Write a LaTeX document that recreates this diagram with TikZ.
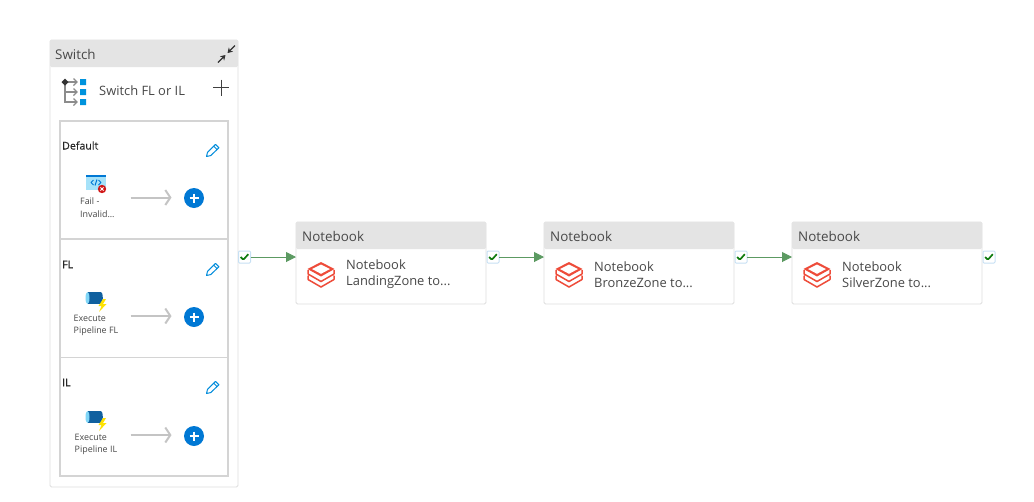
\documentclass[tikz,border=0pt]{standalone}
\usepackage{fontspec}
\setmainfont{Open Sans}
\newfontfamily\casefont[FakeBold=0.4]{Open Sans}
\usetikzlibrary{arrows.meta,shapes.geometric}
\definecolor{azure}{HTML}{0078D4}
\definecolor{headgrey}{HTML}{E4E4E4}
\definecolor{edgegrey}{HTML}{DDDDDD}
\definecolor{casegrey}{HTML}{D4D4D4}
\definecolor{textgrey}{HTML}{484848}
\definecolor{okgreen}{HTML}{107C10}
\definecolor{okline}{HTML}{5C9A62}
\definecolor{halo}{HTML}{C7E0F4}
\definecolor{pipeblue}{HTML}{10609F}
\definecolor{brickred}{HTML}{EE4C3A}
\tikzset{
  box/.style={draw=edgegrey, line width=.9pt, fill=white, rounded corners=1.5pt, anchor=north west, outer sep=0pt, inner sep=0pt},
  casebox/.style={box, draw=casegrey, line width=1.1pt, sharp corners},
  headbar/.style={fill=headgrey, rounded corners=1.5pt, anchor=north west, outer sep=0pt, inner sep=0pt, minimum height=27pt},
  headtext/.style={anchor=west, inner sep=0pt, text=textgrey, font=\fontsize{13.4}{16}\selectfont},
  nbtext/.style={anchor=west, inner sep=0pt, align=left, text=textgrey, font=\fontsize{12.9}{16}\selectfont},
  casetext/.style={anchor=west, inner sep=0pt, text=black!85, font=\casefont\fontsize{10.6}{13}\selectfont},
  acttext/.style={anchor=north west, inner sep=0pt, align=left, text=textgrey, font=\fontsize{8.9}{12.2}\selectfont},
  check/.style={draw=halo, line width=1pt, fill=white, rounded corners=1pt, minimum size=12pt, inner sep=0pt, outer sep=0pt,
    path picture={\draw[okgreen, line width=1.7pt] (path picture bounding box.center) ++(-3.8,0) -- ++(2.6,2.8) -- ++(5,-5.6);}},
  addbtn/.style={circle, fill=azure, minimum size=20pt, inner sep=0pt, outer sep=0pt,
    path picture={\draw[white, line width=1.7pt] (path picture bounding box.center) ++(-4.5,0) -- ++(9,0) ++(-4.5,-4.5) -- ++(0,9);}},
  oklink/.style={draw=okline, line width=1pt, -{Triangle[length=10pt,width=10pt]}},
  addline/.style={draw=black!23, line width=2pt, -{Straight Barb[length=5pt,width=15pt]}},
  pencil/.pic={\draw[azure!85!cyan, line width=1pt, line join=round] (-6,6.5) -- (-5,2.4) -- (3,-5.6) -- (6.4,-2.2) -- (-1.8,5.6) -- cycle (1.2,-3.8) -- (4.4,-.6);},
  failicon/.pic={
    \fill[cyan!35] (-10,-7) rectangle (10,8);
    \fill[azure] (-10,-7) rectangle (10,-4.8);
    \draw[azure, line width=1pt] (-5,.5) -- (-2.5,-2) (-5,.5) -- (-2.5,3) (5,.5) -- (2.5,-2) (5,.5) -- (2.5,3) (1,-2.5) -- (-1,3.5);
    \fill[red!80!black!90!white] (6,7) circle (4.2);
    \draw[white, line width=1pt] (4.4,5.4) -- (7.6,8.6) (4.4,8.6) -- (7.6,5.4);},
  pipeicon/.pic={
    \fill[pipeblue] (-6.5,-6) rectangle (7,6);
    \fill[cyan!50] (-6.5,0) ellipse (2 and 6);
    \fill[pipeblue] (7,0) ellipse (1.8 and 6);
    \fill[yellow!85!orange] (9,1) -- (4.5,8) -- (7.5,8) -- (5,14) -- (12.5,6) -- (9,6) -- (12,1) -- cycle;},
  switchicon/.pic={
    \draw[black!45, line width=2pt] (0,0) -- (0,20) -- (11,20) (0,10) -- (11,10) (0,0) -- (11,0);
    \draw[black!45, line width=1.3pt] (8.5,-3.5) -- (12,0) -- (8.5,3.5) (8.5,6.5) -- (12,10) -- (8.5,13.5) (8.5,16.5) -- (12,20) -- (8.5,23.5);
    \fill[black!80] (-3.5,0) -- (0,-3.5) -- (3.5,0) -- (0,3.5) -- cycle;
    \fill[azure!80!cyan] (15,-3) rectangle (21,3) (15,7) rectangle (21,13) (15,17) rectangle (21,23);},
  bricks/.pic={
    \fill[brickred] (0,-13) -- (13.5,-6) -- (0,1.5) -- (-13.5,-6) -- cycle;
    \fill[white] (0,-10.5) -- (9,-6) -- (0,-1.2) -- (-9,-6) -- cycle;
    \draw[brickred, line width=1.5pt] (-13,-1) -- (0,6.5) -- (13,-1) (-13,4.5) -- (0,12) -- (13,4.5) (-13,-5) -- (-13,-1) (13,-5) -- (13,-1) (-13,.5) -- (-13,4.5) (13,.5) -- (13,4.5);}
}
\begin{document}
\begin{tikzpicture}[x=1pt, y=-1pt]
  \useasboundingbox (0,0) rectangle (1034,501);

  % switch panel
  \node[box, minimum width=188pt, minimum height=447pt] (panel) at (50,40) {};
  \node[headbar, minimum width=188pt] (panelHead) at (50,40) {};
  \node[headtext] (panelTitle) at (55,54.5) {Switch};
  \draw[black!80, line width=1.3pt, -{Stealth[length=5pt,width=6pt]}] (218,62.5) -- (225.5,55);
  \draw[black!80, line width=1.3pt, -{Stealth[length=5pt,width=6pt]}] (235,45.5) -- (227.5,53);
  \pic at (65,82) {switchicon};
  \node[headtext, font=\fontsize{12.9}{15}\selectfont] (switchName) at (99,90.5) {Switch FL or IL};
  \draw[black!75, line width=.8pt] (213,87.5) -- (229,87.5) (221,79.5) -- (221,95.5);

  % cases
  \node[casebox, minimum width=168pt, minimum height=118pt] (caseDefault) at (60,121) {};
  \node[casebox, minimum width=168pt, minimum height=118.5pt] (caseFL) at (60,239) {};
  \node[casebox, minimum width=168pt, minimum height=118.5pt] (caseIL) at (60,357.5) {};
  \node[casetext] (labelDefault) at (62,145.5) {Default};
  \node[casetext] (labelFL) at (62,264.5) {FL};
  \node[casetext] (labelIL) at (62,382.5) {IL};
  \pic at (212.5,150) {pencil};
  \pic at (212.5,269) {pencil};
  \pic at (212.5,387) {pencil};
  \pic at (96,182) {failicon};
  \pic at (94,298) {pipeicon};
  \pic at (94,417) {pipeicon};
  \node[acttext] (actFail) at (80,198) {Fail -\\Invalid...};
  \node[acttext] (actFL) at (73.5,315) {Execute\\Pipeline FL};
  \node[acttext] (actIL) at (74.5,434) {Execute\\Pipeline IL};
  \node[addbtn] (addDefault) at (194,198) {};
  \node[addbtn] (addFL) at (194,317) {};
  \node[addbtn] (addIL) at (194,436) {};
  \coordinate (fromDefault) at (130.5,197.5);
  \coordinate (fromFL) at (130.5,316);
  \coordinate (fromIL) at (130.5,435);
  \draw[addline] (fromDefault) -- (fromDefault -| 171.5,0);
  \draw[addline] (fromFL) -- (fromFL -| 171.5,0);
  \draw[addline] (fromIL) -- (fromIL -| 171.5,0);

  % notebooks
  \node[box, minimum width=190pt, minimum height=82pt] (nbLanding) at (296,222) {};
  \node[headbar, minimum width=190pt] (nbLandingHead) at (296,222) {};
  \node[headtext] (nbLandingTitle) at (302,236.5) {Notebook};
  \pic at (321,275) {bricks};
  \node[nbtext] (nbLandingText) at (346,274.5) {Notebook\\LandingZone to...};

  \node[box, minimum width=190pt, minimum height=82pt] (nbBronze) at (544,222) {};
  \node[headbar, minimum width=190pt] (nbBronzeHead) at (544,222) {};
  \node[headtext] (nbBronzeTitle) at (550,236.5) {Notebook};
  \pic at (569,275) {bricks};
  \node[nbtext] (nbBronzeText) at (594,274.5) {Notebook\\BronzeZone to...};

  \node[box, minimum width=190pt, minimum height=82pt] (nbSilver) at (792,222) {};
  \node[headbar, minimum width=190pt] (nbSilverHead) at (792,222) {};
  \node[headtext] (nbSilverTitle) at (798,236.5) {Notebook};
  \pic at (817,275) {bricks};
  \node[nbtext] (nbSilverText) at (842,274.5) {Notebook\\SilverZone to...};

  % success links
  \node[check] (okSwitch) at (244.5,257) {};
  \node[check] (okLanding) at (493,257) {};
  \node[check] (okBronze) at (741,257) {};
  \node[check] (okSilver) at (989,257) {};
  \draw[oklink] (okSwitch) -- (okSwitch -| nbLanding.west);
  \draw[oklink] (okLanding) -- (okLanding -| nbBronze.west);
  \draw[oklink] (okBronze) -- (okBronze -| nbSilver.west);
\end{tikzpicture}
\end{document}
